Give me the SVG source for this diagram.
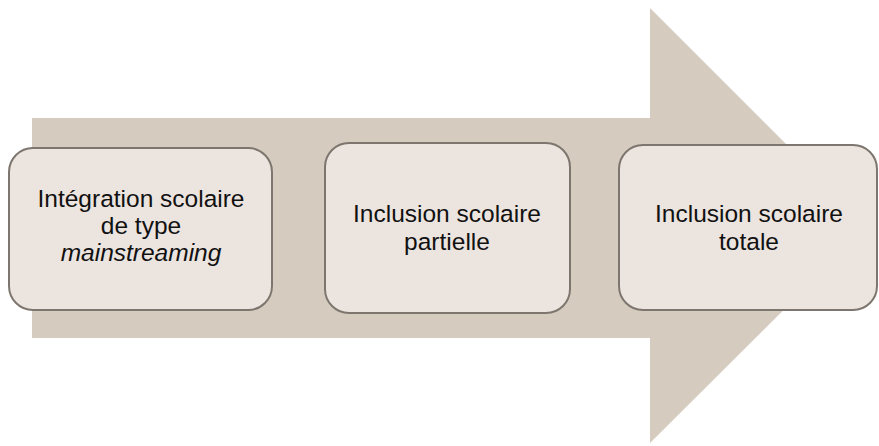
<svg xmlns="http://www.w3.org/2000/svg" width="879" height="446" viewBox="0 0 879 446">
<style>
.box{fill:#ece4df;stroke:#7d766e;stroke-width:2}
.t{font-family:"Liberation Sans",Arial,sans-serif;font-size:24.5px;fill:#111;text-anchor:middle}
</style>
<rect width="879" height="446" fill="#fff"/>
<g id="arrow">
<polygon points="32,118 650,118 650,8 868,226 650,443 650,338 32,338" fill="#d6cbbf"/>
</g>
<g id="node1">
<rect class="box" x="9" y="148" width="263" height="162" rx="24"/>
<text class="t" x="141" y="207">Intégration scolaire</text>
<text class="t" x="141" y="234">de type</text>
<text class="t" x="141" y="261" font-style="italic">mainstreaming</text>
</g>
<g id="node2">
<rect class="box" x="325" y="143" width="245" height="170" rx="24"/>
<text class="t" x="447" y="222">Inclusion scolaire</text>
<text class="t" x="447" y="250">partielle</text>
</g>
<g id="node3">
<rect class="box" x="619" y="145" width="258" height="165" rx="24"/>
<text class="t" x="749" y="222">Inclusion scolaire</text>
<text class="t" x="749" y="250">totale</text>
</g>
</svg>
